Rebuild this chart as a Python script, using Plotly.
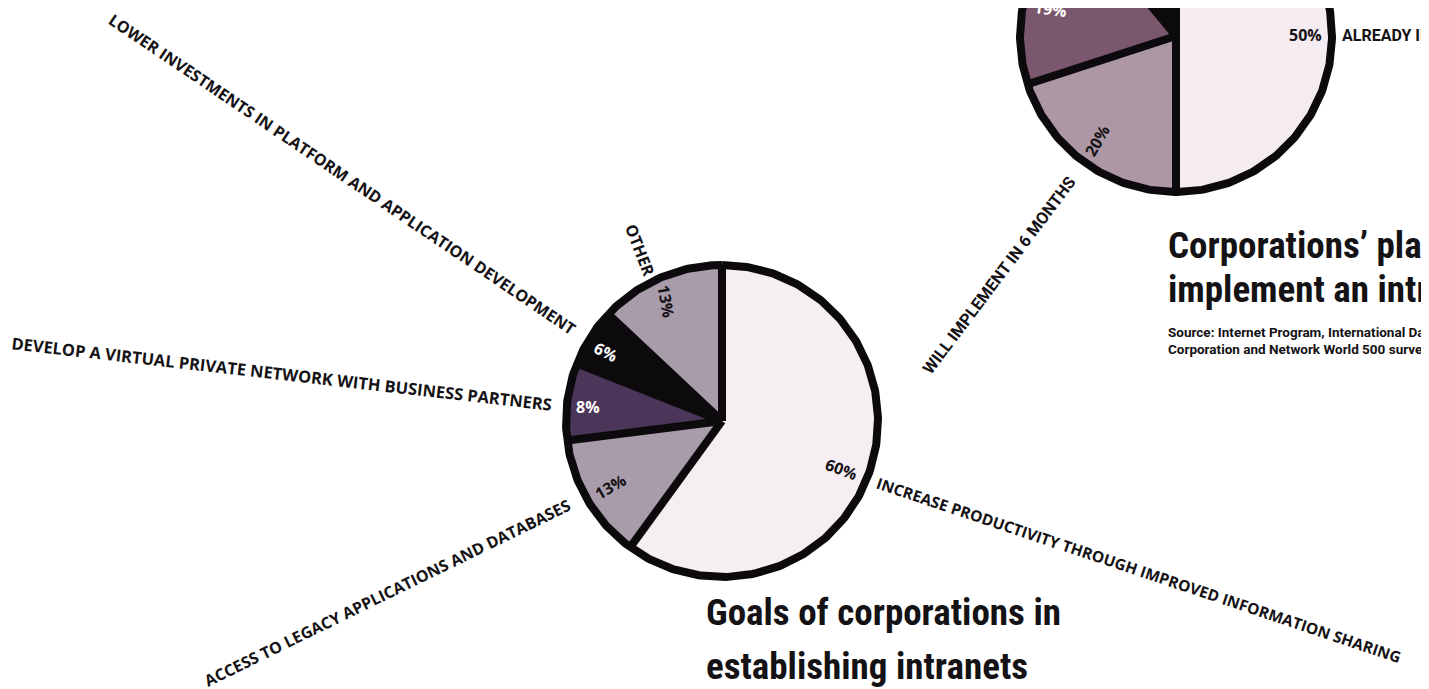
import numpy as np
import plotly.graph_objects as go

# ---------------- data ----------------
goal_labels = [
    "INCREASE PRODUCTIVITY THROUGH IMPROVED INFORMATION SHARING",
    "ACCESS TO LEGACY APPLICATIONS AND DATABASES",
    "DEVELOP A VIRTUAL PRIVATE NETWORK WITH BUSINESS PARTNERS",
    "LOWER INVESTMENTS IN PLATFORM AND APPLICATION DEVELOPMENT",
    "OTHER",
]
goal_values = [60, 13, 8, 6, 13]

plan_labels = ["ALREADY IMPLEMENTED", "WILL IMPLEMENT IN 6 MONTHS", "", ""]
plan_values = [50, 20, 19, 11]

goal_title = ["Goals of corporations in", "establishing intranets"]
plan_title = ["Corporations\u2019 plans to", "implement an intranet"]
plan_source = ["Source: Internet Program, International Data",
               "Corporation and Network World 500 survey"]

# ---------------- styles / layout ----------------
W, H = 1429, 689
OFF = 8  # page body margin: axes ranges are shifted so data units = screen pixels
INK = "#0c0a0c"
goal_colors = ["#F5EEF3", "#A89CAA", "#4B3558", INK, "#A89CAA"]
plan_colors = ["#F4ECF0", "#AD97A5", "#7B576D", INK]

PIE1 = dict(cx=722, cy=421, r=160)
PIE2 = dict(cx=1176, cy=36, r=160)
RIM = 8

F_LABEL = "Open Sans, Lato, DejaVu Sans, sans-serif"
F_COND = "Liberation Sans Narrow, Roboto Condensed, DejaVu Sans Condensed, Liberation Sans, sans-serif"
F_PLAIN = "Roboto, Liberation Sans, sans-serif"

# positions of the texts (x, y, angle, size) in screen pixels
goal_cat_pos = [(1139, 570, 18.5, 15.5), (387, 593, -26, 16), (282, 373, 6.5, 16.5),
                (342, 174, 34, 16), (640, 250, 69, 16)]
goal_pct_pos = [(841, 469, 20), (610, 487, -30), (588, 407, 0), (606, 352, 27), (666, 301, 80)]
goal_pct_col = ["#151215", "#151215", "white", "white", "#151215"]

plan_pct_pos = [(1305, 35, 0), (1097, 141, -60), (1050, 9, 8), None]
plan_pct_col = ["#151215", "#151215", "white", "white"]

fig = go.Figure()


def add_pie(values, colors, cx, cy, r):
    total = float(sum(values))
    rf = r - RIM / 2.0
    start = 0.0
    bounds = []
    for v, c in zip(values, colors):
        end = start + 360.0 * v / total
        th = np.radians(np.linspace(start, end, 120))
        xs = np.concatenate([[cx], cx + rf * np.sin(th), [cx]])
        ys = np.concatenate([[cy], cy - rf * np.cos(th), [cy]])
        fig.add_trace(go.Scatter(x=xs, y=ys, fill="toself", fillcolor=c,
                                 line=dict(width=0.5, color=c), mode="lines",
                                 hoverinfo="skip", showlegend=False))
        bounds.append(start)
        start = end
    # dividers
    dx, dy = [], []
    for b in bounds:
        t = np.radians(b)
        dx += [cx, cx + rf * np.sin(t), None]
        dy += [cy, cy - rf * np.cos(t), None]
    fig.add_trace(go.Scatter(x=dx, y=dy, mode="lines",
                             line=dict(width=RIM, color=INK),
                             hoverinfo="skip", showlegend=False))
    # rim
    th = np.radians(np.linspace(0, 360, 400))
    fig.add_trace(go.Scatter(x=cx + rf * np.sin(th), y=cy - rf * np.cos(th),
                             mode="lines", line=dict(width=RIM, color=INK),
                             hoverinfo="skip", showlegend=False))


add_pie(goal_values, goal_colors, **PIE1)
add_pie(plan_values, plan_colors, **PIE2)

ann = []


def text(x, y, s, size, family, color="#141214", angle=0, xa="center", ya="middle"):
    ann.append(dict(x=x, y=y, xref="x", yref="y", text=s, showarrow=False,
                    textangle=angle, xanchor=xa, yanchor=ya,
                    font=dict(size=size, family=family, color=color, weight=700)))


for lab, (x, y, a, s) in zip(goal_labels, goal_cat_pos):
    text(x, y, lab, s, F_LABEL, angle=a)
for v, (x, y, a), c in zip(goal_values, goal_pct_pos, goal_pct_col):
    text(x, y, f"{v}%", 16, F_LABEL, color=c, angle=a)

text(1340, 35, plan_labels[0], 16, F_PLAIN, xa="left")
text(999, 275, plan_labels[1], 16.5, F_PLAIN, angle=-53)
for v, p, c in zip(plan_values, plan_pct_pos, plan_pct_col):
    if p is None:
        continue
    x, y, a = p
    text(x, y, f"{v}%", 16, F_LABEL, color=c, angle=a)

text(704, 612, goal_title[0], 37, F_COND, xa="left")
text(704, 666, goal_title[1], 37, F_COND, xa="left")
text(1166, 245, plan_title[0], 37, F_COND, xa="left")
text(1166, 289, plan_title[1], 37, F_COND, xa="left")
text(1166, 332, plan_source[0], 13.5, F_PLAIN, xa="left")
text(1166, 349, plan_source[1], 13.5, F_PLAIN, xa="left")

fig.update_layout(
    width=W, height=H, margin=dict(l=0, r=0, t=0, b=0),
    paper_bgcolor="white", plot_bgcolor="white",
    xaxis=dict(range=[OFF, W + OFF], visible=False, fixedrange=True),
    yaxis=dict(range=[H + OFF, OFF], visible=False, fixedrange=True),
    annotations=ann, showlegend=False,
)

fig.write_html("out.html")
